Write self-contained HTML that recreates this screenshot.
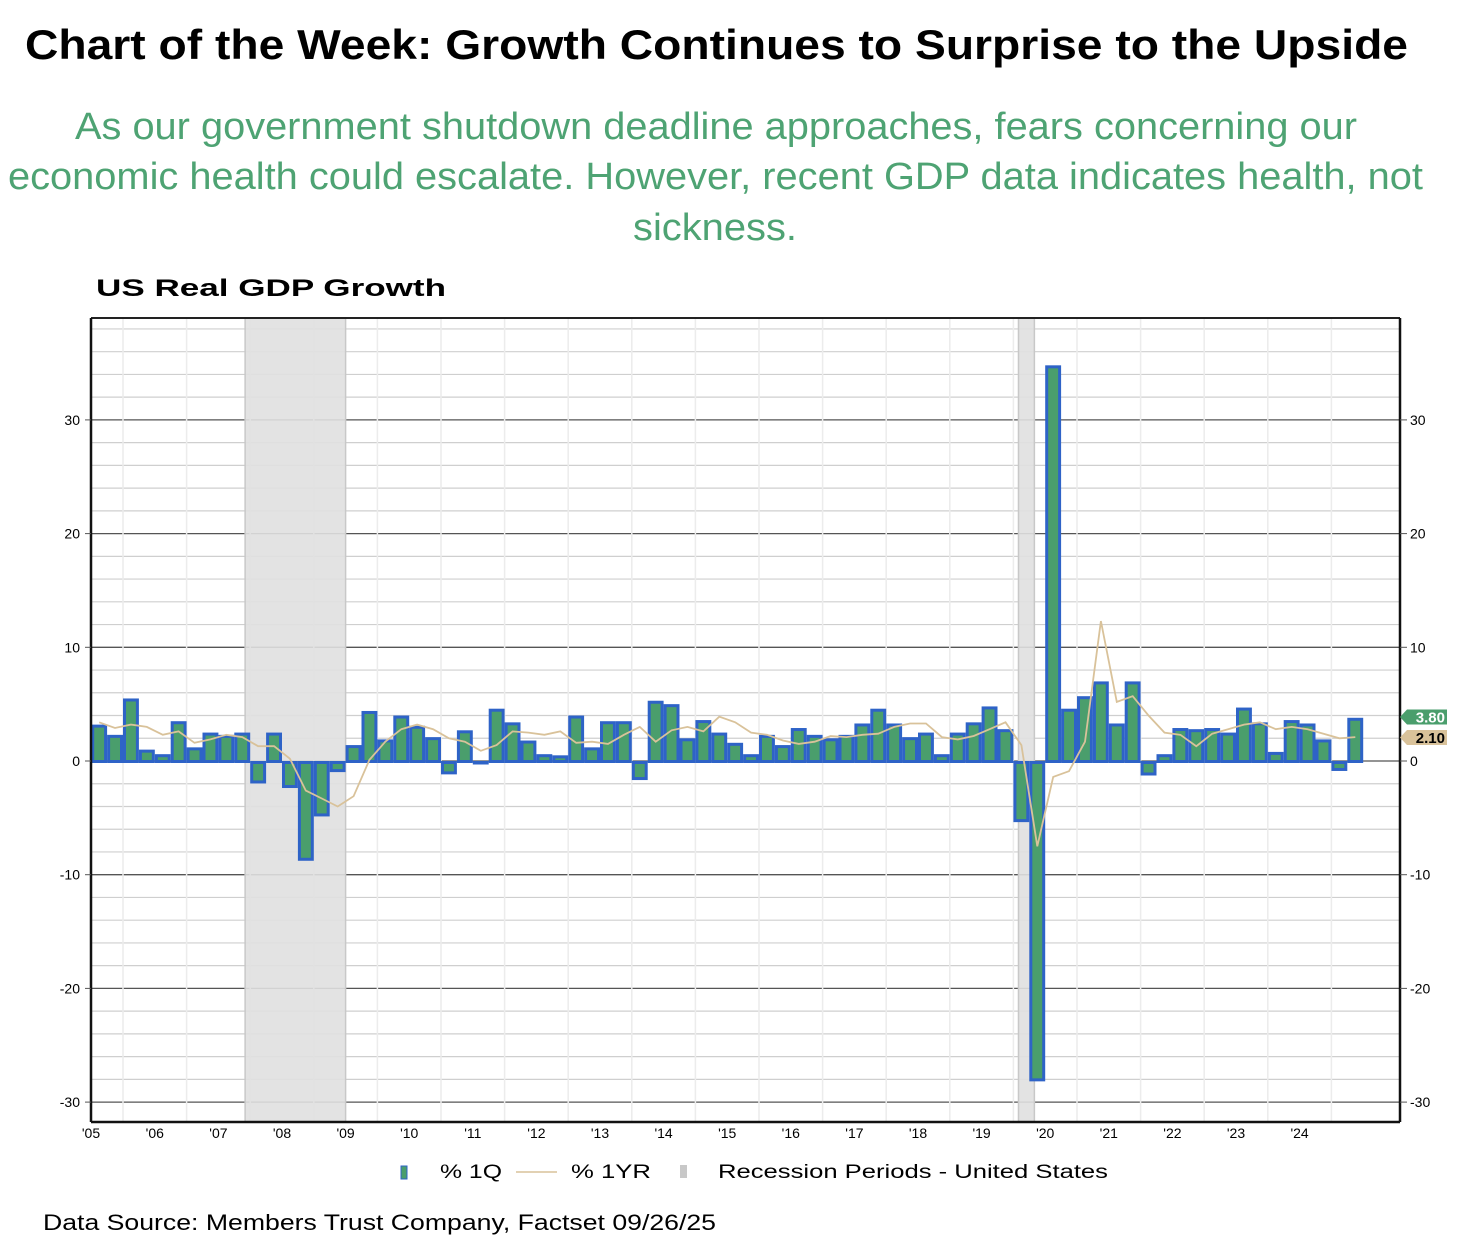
<!DOCTYPE html>
<html><head><meta charset="utf-8"><style>
html,body{margin:0;padding:0;background:#fff;}
svg{display:block;font-family:"Liberation Sans",Arial,sans-serif;}
</style></head><body>
<svg id="chart" width="1458" height="1244" viewBox="0 0 1458 1244" xmlns="http://www.w3.org/2000/svg">
<text x="25" y="59" font-size="42" font-weight="bold" fill="#000" textLength="1383" lengthAdjust="spacingAndGlyphs">Chart of the Week: Growth Continues to Surprise to the Upside</text>
<g fill="#4ea373" font-size="38">
<text x="75" y="139" textLength="1282" lengthAdjust="spacingAndGlyphs">As our government shutdown deadline approaches, fears concerning our</text>
<text x="8" y="189" textLength="1415" lengthAdjust="spacingAndGlyphs">economic health could escalate. However, recent GDP data indicates health, not</text>
<text x="633" y="240" textLength="164" lengthAdjust="spacingAndGlyphs">sickness.</text>
</g>
<text x="96" y="296" font-size="24" font-weight="bold" fill="#000" textLength="350" lengthAdjust="spacingAndGlyphs">US Real GDP Growth</text>
<g id="grid"></g>
<g id="rec"></g>
<g id="bars"></g>
<g id="line"></g>
<g id="axes"></g>
<g>
<rect x="401" y="1166" width="6" height="13" fill="#4a9e6c" stroke="#2e63c7" stroke-width="1"/>
<text x="440" y="1178" font-size="19" fill="#000" textLength="62" lengthAdjust="spacingAndGlyphs">% 1Q</text>
<line x1="516" y1="1172" x2="557" y2="1172" stroke="#d9c29a" stroke-width="1.5"/>
<text x="571" y="1178" font-size="19" fill="#000" textLength="80" lengthAdjust="spacingAndGlyphs">% 1YR</text>
<rect x="680" y="1165" width="7" height="13" fill="#c8c8c8"/>
<text x="718" y="1178" font-size="19" fill="#000" textLength="390" lengthAdjust="spacingAndGlyphs">Recession Periods - United States</text>
</g>
<text x="43" y="1230" font-size="22" fill="#000" textLength="673" lengthAdjust="spacingAndGlyphs">Data Source: Members Trust Company, Factset 09/26/25</text>
</svg>
<script>
const q1 = [3.2,2.3,5.5,1.0,0.6,3.5,1.2,2.5,2.3,2.5,-1.8,2.5,-2.2,-8.6,-4.7,-0.8,1.4,4.4,1.9,4.0,3.1,2.1,-1.0,2.7,-0.1,4.6,3.4,1.8,0.6,0.5,4.0,1.2,3.5,3.5,-1.5,5.3,5.0,2.0,3.6,2.5,1.6,0.6,2.3,1.4,2.9,2.3,2.0,2.3,3.3,4.6,3.3,2.1,2.5,0.6,2.5,3.4,4.8,2.8,-5.2,-28.0,34.8,4.6,5.7,7.0,3.3,7.0,-1.1,0.6,2.9,2.8,2.9,2.5,4.7,3.4,0.8,3.6,3.3,1.9,-0.7,3.8];
const yr1 = [3.4,2.9,3.2,3.0,2.3,2.6,1.6,1.9,2.3,2.1,1.3,1.3,0.2,-2.6,-3.3,-4.0,-3.1,0.1,1.7,2.8,3.2,2.8,2.0,1.7,0.9,1.4,2.6,2.5,2.3,2.6,1.6,1.7,1.5,2.3,3.0,1.7,2.7,3.0,2.6,3.9,3.4,2.5,2.3,1.8,1.5,1.7,2.2,2.1,2.3,2.4,3.0,3.3,3.3,2.1,1.9,2.2,2.8,3.4,1.4,-7.5,-1.4,-0.9,1.7,12.3,5.2,5.7,4.0,2.5,2.3,1.3,2.4,2.8,3.2,3.4,2.8,3.0,2.8,2.4,2.0,2.1];
const yearLabels = ["'05","'06","'07","'08","'09","'10","'11","'12","'13","'14","'15","'16","'17","'18","'19","'20","'21","'22","'23","'24"];
const recessions = [[2007.92,2009.5],[2020.08,2020.33]];
const yTicks = [30,20,10,0,-10,-20,-30];

const NS="http://www.w3.org/2000/svg";
const L=91,R=1400,T=318,B=1122;
const YW=63.6;
const y=v=>761-v*11.37;
const yrX=t=>123+(t-2006)*YW;
const bx=i=>yrX(2005.5+i*0.25);
const QW=YW/4;
function mk(tag,attrs,parent){const e=document.createElementNS(NS,tag);for(const k in attrs)e.setAttribute(k,attrs[k]);parent.appendChild(e);return e;}
const grid=document.getElementById('grid'),rec=document.getElementById('rec'),bars=document.getElementById('bars'),line=document.getElementById('line'),axes=document.getElementById('axes');

for(let v=-30;v<=38;v+=2){
  const major=v%10===0;
  const g=mk('line',{x1:L,x2:R,y1:y(v),y2:y(v),stroke:major?'#555':'#cfcfcf','stroke-width':major?1.3:1.2},grid);
  
  
}
for(let k=1;k<yearLabels.length+1;k++){
  const gx=yrX(2005+k);
  if(gx>=R) continue;
  const g=mk('line',{x1:gx,x2:gx,y1:T,y2:B,stroke:'#ececec','stroke-width':1.5},grid);
  
  
}
recessions.forEach(r=>{
  const e=mk('rect',{x:yrX(r[0]),y:T,width:yrX(r[1])-yrX(r[0]),height:B-T,fill:'#e0e0e0',stroke:'#c8c8c8','stroke-width':1.5,'fill-opacity':0.9},rec);
  
  
});
q1.forEach((v,i)=>{
  const x=bx(i),top=Math.min(y(v),y(0)),h=Math.abs(y(v)-y(0));
  const e=mk('rect',{x:x+1.5,y:top+1.5,width:QW-3,height:Math.max(h-1,0.5),fill:'#4a9e6c',stroke:'#2e63c7','stroke-width':3},bars);
  
  
});
const pts=yr1.map((v,i)=>(bx(i)+QW/2).toFixed(1)+','+y(v).toFixed(1)).join(' ');
const pl=mk('polyline',{points:pts,fill:'none',stroke:'#d9c29a','stroke-width':1.8},line);



mk('line',{x1:L,x2:R,y1:T,y2:T,stroke:'#222','stroke-width':2},axes);
mk('line',{x1:L,x2:R,y1:B,y2:B,stroke:'#111','stroke-width':2.5},axes);
mk('line',{x1:L,x2:L,y1:T,y2:B,stroke:'#111','stroke-width':2.5},axes);
mk('line',{x1:R,x2:R,y1:T,y2:B,stroke:'#111','stroke-width':2.5},axes);
yTicks.forEach(v=>{
  const a=mk('text',{x:80,y:y(v)+5,'font-size':14,'text-anchor':'end',fill:'#000'},axes);
  a.textContent=v;
  
  
  const b=mk('text',{x:1410,y:y(v)+5,'font-size':14,fill:'#000'},axes);
  b.textContent=v;
  
  
  mk('line',{x1:L-6,x2:L,y1:y(v),y2:y(v),stroke:'#555'},axes);
  mk('line',{x1:R,x2:R+7,y1:y(v),y2:y(v),stroke:'#555'},axes);
});
yearLabels.forEach((s,k)=>{
  const x=k===0?91:yrX(2005+k)+YW/2;
  const t=mk('text',{x:x,y:1138,'font-size':14,'text-anchor':'middle',fill:'#000'},axes);
  t.textContent=s;
  
  
});
function tag(v,yy,fill,col,name){
  const g=mk('g',{},axes);
  
  
  mk('path',{d:`M1400 ${yy} l7 -7.5 h40 v15 h-40 z`,fill:fill},g);
  const t=mk('text',{x:1445,y:yy+5.5,'font-size':15,'font-weight':'bold','text-anchor':'end',fill:col},g);
  t.textContent=v.toFixed(2);
}
tag(q1[q1.length-1],717,'#4a9e6c','#fff','last-value-tag-1q');
tag(yr1[yr1.length-1],737.5,'#d9c29a','#000','last-value-tag-1yr');
</script>
</body></html>
